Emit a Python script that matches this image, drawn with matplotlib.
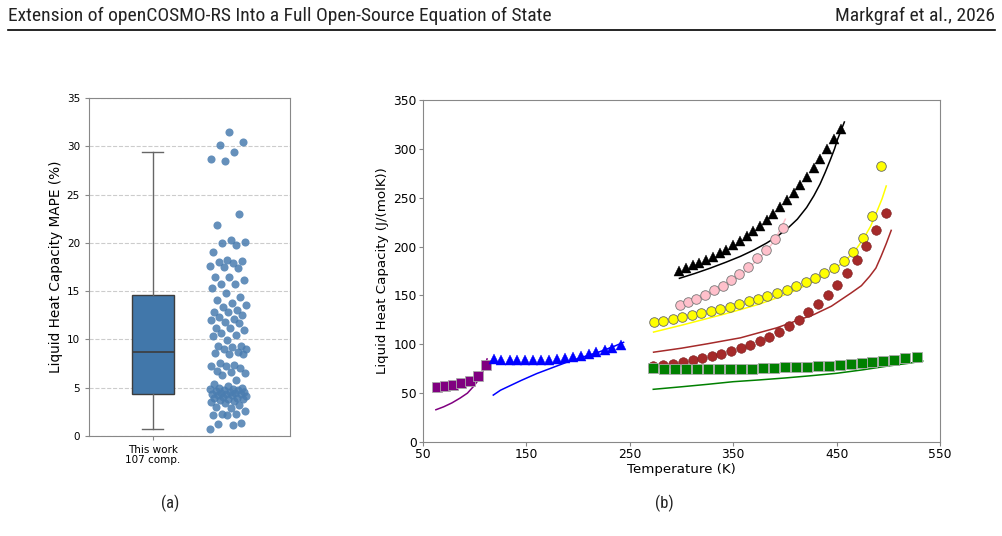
import numpy as np
import matplotlib
matplotlib.use("Agg")
import matplotlib.pyplot as plt
from matplotlib import font_manager

# ---- panel (a): MAPE per compound (107 compounds) ----
mape = [
    0.7, 1.1, 1.2, 1.3, 2.2, 2.2, 2.3, 2.3, 2.6, 2.9,
    3.0, 3.2, 3.4, 3.5, 3.6, 3.7, 3.8, 3.8, 3.9, 3.9,
    4.0, 4.1, 4.2, 4.2, 4.3, 4.3, 4.35,
    4.45, 4.5, 4.6, 4.6, 4.7, 4.8, 4.8, 4.9, 4.9, 5.0, 5.0,
    5.2, 5.4, 5.8, 6.3, 6.5, 6.6, 6.7, 7.0, 7.2, 7.2, 7.4, 7.6,
    8.5, 8.5, 8.6, 8.7,
    9.0, 9.0, 9.2, 9.3, 9.3, 9.9, 10.4, 10.5, 10.7, 11.0,
    11.2, 11.2, 11.7, 11.8, 12.0, 12.1, 12.3, 12.5, 12.8, 12.8,
    13.0, 13.4, 13.6, 13.8, 14.1, 14.4,
    14.8, 15.3, 15.7, 15.7, 16.2, 16.5, 16.5, 17.4, 17.5, 17.6,
    17.9, 18.0, 18.1, 18.2, 19.1, 19.8, 20.0, 20.1, 20.3, 21.9,
    23.0, 28.5, 28.7, 29.4, 30.1, 30.4, 31.5,
]
box_label = "This work\n107 comp."

# ---- panel (b): liquid heat capacity, experiment (markers) and model (lines) ----
purple_T = [63.2, 71.1, 79.3, 87.2, 95.1, 103.3, 110.8]
purple_cp = [56.5, 57.2, 58.2, 59.9, 62.0, 67.8, 78.3]
purple_line_T = [62.5, 70, 78, 86, 93, 99, 104, 108, 112]
purple_line_cp = [33, 36, 40, 45, 50, 57, 64, 72, 85]

blue_T = [118.7, 125.8, 133.7, 141.2, 149.1, 156.6, 164.5, 172.0, 179.5,
          187.4, 194.9, 202.4, 210.3, 217.8, 225.7, 233.2, 241.1]
blue_cp = [85.1, 84.4, 83.8, 83.4, 83.4, 83.4, 83.4, 84.1, 85.1,
           86.1, 87.2, 88.5, 90.2, 91.9, 94.3, 96.7, 99.4]
blue_line_T = [118, 125, 135, 145, 160, 175, 190, 205, 220, 235, 244]
blue_line_cp = [48, 53, 58, 63, 70, 76, 82, 87, 92, 98, 102]

black_T = [297.9, 304.4, 310.9, 317.4, 323.9, 330.4, 336.9, 343.4, 349.9,
           356.4, 362.9, 369.4, 375.9, 382.4, 388.9, 395.4, 401.9, 408.4,
           414.9, 421.4, 427.9, 434.4, 440.9, 447.4, 454.0]
black_cp = [175.0, 177.8, 180.8, 183.2, 186.3, 189.7, 193.1, 196.8, 201.3,
            205.7, 210.8, 216.0, 221.4, 227.5, 233.7, 240.5, 247.7, 255.2,
            263.1, 271.6, 280.5, 290.0, 299.9, 309.8, 320.7]
black_line_T = [298, 313, 328, 343, 357, 370, 382, 392, 402, 412,
                421, 428, 434, 439, 444, 448, 451, 454, 457.5]
black_line_cp = [167.5, 172.5, 178, 184, 190, 196.5, 203.4, 210, 218, 228,
                 240, 252, 264, 276, 289, 300, 310, 318, 327.5]

pink_T = [298.4, 306.6, 314.5, 323.1, 331.3, 339.9, 348.1, 356.0, 364.6,
          373.2, 381.4, 390.0, 397.9]
pink_cp = [140.6, 143.7, 146.8, 150.8, 155.3, 160.0, 165.8, 171.9, 179.1,
           188.0, 196.8, 207.4, 218.9]
pink_line_T = [298, 320, 340, 360, 380, 390, 400.4]
pink_line_cp = [138, 148, 158, 173, 193, 206, 228]

yellow_T = [273.0, 282.3, 291.6, 300.5, 309.8, 319.1, 328.1, 337.3, 346.6,
            355.6, 364.9, 374.2, 383.1, 392.4, 401.7, 411.0, 420.0, 429.3,
            438.2, 447.4, 456.9, 465.8, 475.1, 484.0, 493.4]
yellow_cp = [122.6, 124.3, 126.0, 127.7, 129.7, 131.8, 134.2, 136.5, 138.6,
             141.3, 144.0, 146.8, 149.8, 152.5, 155.9, 159.7, 163.8, 167.9,
             172.6, 178.1, 184.9, 194.4, 208.4, 231.5, 282.6]
yellow_line_T = [273, 300, 321, 340, 357, 375, 392, 410, 428, 445,
                 458, 468, 476, 483, 489, 494, 498]
yellow_line_cp = [112.5, 119.5, 125.3, 130.5, 135.5, 141, 147.4, 155, 164.5, 175,
                  185, 196, 208, 221, 236, 249, 262]

brown_T = [272.7, 282.4, 291.8, 301.1, 310.8, 320.1, 329.2, 338.5, 347.9,
           357.2, 366.5, 375.9, 384.9, 394.6, 404.0, 413.3, 422.7, 432.0,
           441.4, 450.7, 460.1, 469.5, 478.8, 488.1, 497.4]
brown_cp = [77.8, 78.5, 80.2, 81.9, 83.6, 85.6, 87.7, 90.4, 92.8,
            95.9, 99.6, 103.4, 107.8, 112.9, 118.7, 125.2, 132.7, 140.9,
            150.1, 160.7, 172.6, 185.8, 200.6, 216.6, 234.8]
brown_line_T = [273, 300, 325, 357, 392, 428, 445, 464, 474, 482,
                488, 493, 498, 502.8]
brown_line_cp = [91.9, 96, 100.5, 106.6, 116.8, 130.4, 139, 152.5, 160, 169.6,
                 178, 190, 203, 216.6]

green_T = [272.7, 283.3, 293.9, 304.5, 315.1, 325.7, 336.3, 346.9, 357.5,
           368.1, 378.7, 389.3, 399.9, 410.5, 421.1, 431.7, 442.3, 452.9,
           463.5, 474.1, 484.7, 495.3, 505.9, 516.5, 527.5]
green_cp = [76.1, 75.1, 74.7, 74.4, 74.4, 74.4, 74.4, 74.7, 75.1,
            75.1, 75.7, 76.1, 76.4, 76.8, 77.1, 77.5, 78.1, 78.5,
            79.5, 80.5, 81.6, 82.6, 83.9, 85.6, 87.3]
green_line_T = [272.7, 300, 325, 350, 375, 400, 425, 450, 475, 500, 520, 533.3]
green_line_cp = [53.9, 56.5, 59, 61.7, 63.5, 65.5, 67.8, 70.3, 73.8, 77.8, 80.6, 82.9]

# header font: condensed if we have one
names = set(f.name for f in font_manager.fontManager.ttflist)
head_font = "Roboto Condensed" if "Roboto Condensed" in names else "Roboto"

fig = plt.figure(figsize=(10.03, 5.36), dpi=100)

# page header
fig.text(0.008, 0.970, "Extension of openCOSMO-RS Into a Full Open-Source Equation of State",
         family=head_font, fontsize=14, va="center", ha="left", color="#222222")
fig.text(0.992, 0.970, "Markgraf et al., 2026",
         family=head_font, fontsize=14, va="center", ha="right", color="#222222")
fig.add_artist(plt.Line2D([0.008, 0.992], [0.944, 0.944], transform=fig.transFigure,
                          color="black", lw=1.2))

spine_col = "#888888"

# ---- (a) ----
ax1 = fig.add_axes([0.0887, 0.1866, 0.2004, 0.6304])
ax1.yaxis.grid(True, ls="--", color="#cccccc", lw=0.8)
ax1.set_axisbelow(True)
ax1.boxplot(mape, positions=[0], widths=0.307, patch_artist=True, showfliers=False,
            boxprops=dict(facecolor="#4177aa", edgecolor="#3d3d3d", lw=1.0),
            medianprops=dict(color="#3d3d3d", lw=1.2),
            whiskerprops=dict(color="#666666", lw=1.0),
            capprops=dict(color="#666666", lw=1.0))
n = len(mape)
jitter = ((np.arange(n) * 0.6180339887) % 1 - 0.5) * 0.27
ax1.scatter(0.55 + jitter, mape, s=34, color="#4a7db0", alpha=0.85, lw=0, zorder=3)
ax1.set_xlim(-0.465, 1.0)
ax1.set_ylim(0, 35)
ax1.set_yticks(np.arange(0, 36, 5))
ax1.set_xticks([0])
ax1.set_xticklabels([box_label], fontsize=7.5, linespacing=1.0)
ax1.tick_params(axis="y", labelsize=7.5, length=3, color=spine_col)
ax1.tick_params(axis="x", length=3, color=spine_col)
ax1.set_ylabel("Liquid Heat Capacity MAPE (%)", fontsize=9.8, labelpad=3)
for s in ax1.spines.values():
    s.set_color(spine_col)

# ---- (b) ----
ax2 = fig.add_axes([0.4217, 0.1754, 0.5155, 0.638])
ms = 6.9
ax2.plot(purple_line_T, purple_line_cp, color="purple", lw=1.1)
ax2.plot(purple_T, purple_cp, "s", color="purple", ms=ms, mec="#aaaaaa", mew=0.6)
ax2.plot(blue_line_T, blue_line_cp, color="blue", lw=1.1)
ax2.plot(blue_T, blue_cp, "^", color="blue", ms=ms, mec="blue", mew=0.3)
ax2.plot(black_line_T, black_line_cp, color="black", lw=1.1)
ax2.plot(black_T, black_cp, "^", color="black", ms=ms, mew=0.3)
ax2.plot(pink_line_T, pink_line_cp, color="pink", lw=1.1)
ax2.plot(pink_T, pink_cp, "o", color="pink", ms=ms, mec="#777777", mew=0.6)
ax2.plot(yellow_line_T, yellow_line_cp, color="yellow", lw=1.1)
ax2.plot(yellow_T, yellow_cp, "o", color="yellow", ms=ms, mec="#666666", mew=0.6)
ax2.plot(brown_line_T, brown_line_cp, color="brown", lw=1.1)
ax2.plot(brown_T, brown_cp, "o", color="brown", ms=ms, mec="#7a2020", mew=0.4)
ax2.plot(green_line_T, green_line_cp, color="green", lw=1.1)
ax2.plot(green_T, green_cp, "s", color="green", ms=ms, mec="#aaaaaa", mew=0.6)
ax2.set_xlim(50, 550)
ax2.set_ylim(0, 350)
ax2.set_xticks([50, 150, 250, 350, 450, 550])
ax2.set_yticks(np.arange(0, 351, 50))
ax2.tick_params(labelsize=8.8, length=3, color=spine_col, pad=1.5)
ax2.set_xlabel("Temperature (K)", fontsize=9.6, labelpad=1)
ax2.set_ylabel("Liquid Heat Capacity (J/(molK))", fontsize=9.6, labelpad=3)
for s in ax2.spines.values():
    s.set_color(spine_col)

# captions
fig.text(170 / 1003, 1 - 503 / 536, "(a)", family=head_font, fontsize=12,
         ha="center", va="center", color="#222222")
fig.text(664 / 1003, 1 - 503 / 536, "(b)", family=head_font, fontsize=12,
         ha="center", va="center", color="#222222")

fig.savefig("out.png", dpi=100)
